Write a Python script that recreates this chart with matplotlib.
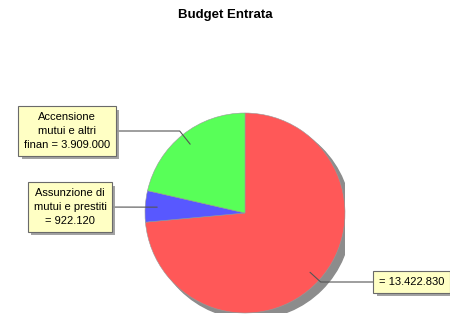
"""Budget Entrata pie chart with callout labels."""

import numpy as np
import matplotlib
matplotlib.use("Agg")
import matplotlib.pyplot as plt
import matplotlib.patheffects as pe
from matplotlib.patches import Circle

labels = ["", "Assunzione di\nmutui e prestiti\n", "Accensione\nmutui e altri\nfinan "]
values = [13422830, 922120, 3909000]
colors = ["#ff5858", "#5858ff", "#58ff58"]
# label box centres in figure pixels (x, y from top)
box_pos = [(379, 282), (70, 207), (67, 131)]
box_ha = ["left", "center", "center"]

W, H = 450, 321


def fmt(v):
    return "{:,}".format(v).replace(",", ".")


def main():
    plt.rcParams["font.family"] = ["Liberation Sans", "DejaVu Sans"]
    fig = plt.figure(figsize=(W / 100, H / 100), dpi=100)
    fig.text(0.5, 1 - 15 / H, "Budget Entrata", ha="center", va="center",
             fontsize=9.5, fontweight="bold")

    cx, cy, r = 245, 213, 100
    ax = fig.add_axes([(cx - r) / W, (H - cy - r) / H, 2 * r / W, 2 * r / H])

    ax.add_patch(Circle((0.06, -0.06), 1, color="#8c8c8c", zorder=0))
    wedges, _ = ax.pie(values, colors=colors, startangle=90, counterclock=False,
                       radius=1, center=(0, 0), frame=True,
                       wedgeprops=dict(edgecolor="#999999", linewidth=0.4))
    ax.set_xlim(-1, 1)
    ax.set_ylim(-1, 1)
    ax.set_aspect("equal")
    ax.axis("off")

    for w, lab, v, (bx, by), ha in zip(wedges, labels, values, box_pos, box_ha):
        mid = np.deg2rad((w.theta1 + w.theta2) / 2)
        px, py = 0.88 * np.cos(mid), 0.88 * np.sin(mid)
        txt = lab + "= " + fmt(v)
        ang = np.rad2deg(mid)
        conn = "arc3" if abs(np.cos(mid)) > 0.98 else f"angle,angleA=0,angleB={ang:.1f},rad=0"
        ann = ax.annotate(
            txt, xy=(px, py), xycoords="data",
            xytext=(bx / W, 1 - by / H), textcoords="figure fraction",
            ha=ha, va="center", multialignment="center",
            fontsize=8, linespacing=1.5,
            bbox=dict(boxstyle="square,pad=0.5", fc="#ffffc4", ec="#6a6a6a", lw=0.8),
            arrowprops=dict(arrowstyle="-", color="#555555", lw=0.8,
                            connectionstyle=conn, shrinkA=0, shrinkB=0),
            annotation_clip=False, zorder=5)
        ann.get_bbox_patch().set_path_effects(
            [pe.SimplePatchShadow(offset=(2.5, -2.5), shadow_rgbFace="#999999", alpha=0.9),
             pe.Normal()])

    fig.savefig("out.png", dpi=100)


if __name__ == "__main__":
    main()
